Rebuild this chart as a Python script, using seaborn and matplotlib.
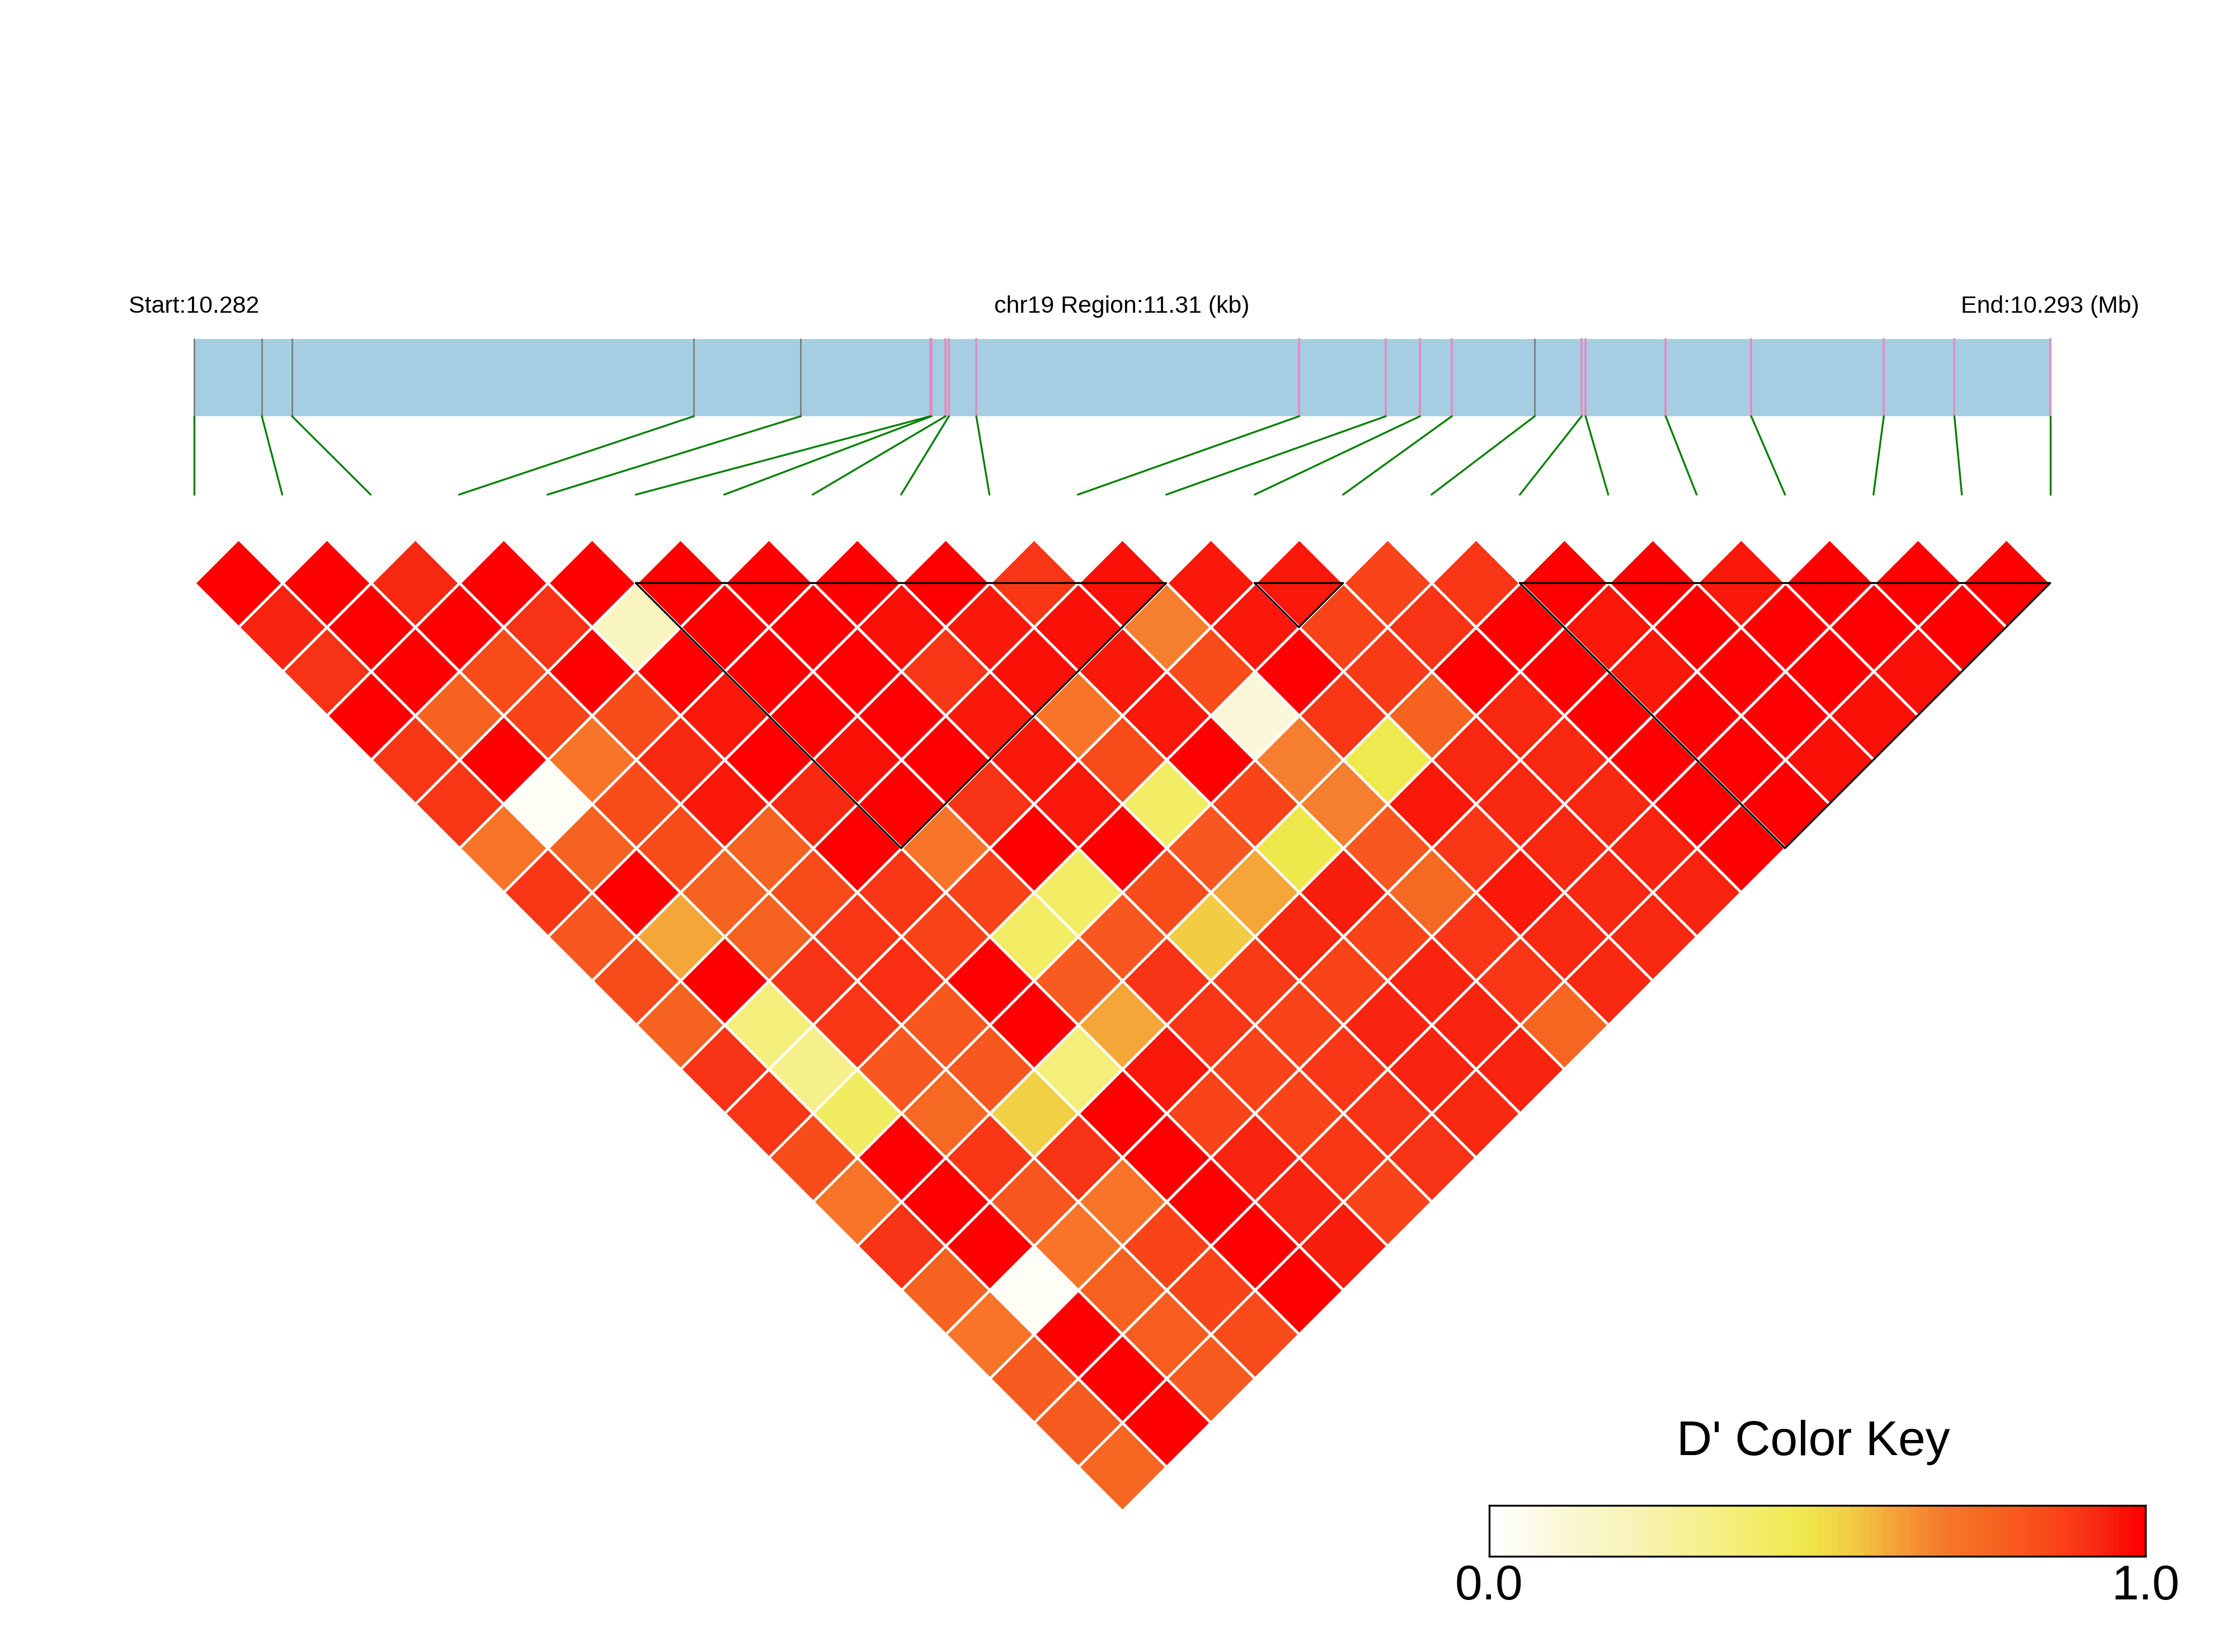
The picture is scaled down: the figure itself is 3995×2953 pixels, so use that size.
import numpy as np
import seaborn as sns
import matplotlib.pyplot as plt
from matplotlib.colors import LinearSegmentedColormap
from matplotlib.patches import Rectangle
from matplotlib.transforms import Affine2D

# SNP positions (bp) on chr19 and their annotation class
snp_pos = [10282000, 10282414, 10282598, 10285046, 10285697, 10286487, 10286494,
           10286580, 10286600, 10286767, 10288734, 10289262, 10289470, 10289664,
           10290169, 10290455, 10290479, 10290967, 10291488, 10292296, 10292726,
           10293310]
snp_class = ['grey'] * 5 + ['pink'] * 9 + ['grey'] + ['pink'] * 7

# haplotype blocks (first SNP, last SNP)
blocks = [(5, 11), (12, 13), (15, 21)]

# D' values, one list per distance between SNPs (lag 1 = neighbours)
dprime_by_lag = [
    [1.0, 1.0, 0.93, 1.0, 1.0, 1.0, 1.0, 1.0, 1.0, 0.9, 0.97, 0.96, 0.96, 0.87, 0.9, 1.0, 1.0, 0.96, 1.0, 1.0, 1.0],
    [0.94, 1.0, 1.0, 0.91, 0.18, 1.0, 1.0, 0.97, 0.96, 0.97, 0.68, 0.96, 0.87, 0.91, 1.0, 0.96, 1.0, 1.0, 1.0, 1.0],
    [0.91, 1.0, 0.85, 1.0, 1.0, 1.0, 1.0, 0.9, 0.97, 0.96, 0.84, 1.0, 0.89, 1.0, 1.0, 0.96, 1.0, 1.0, 0.97],
    [1.0, 0.77, 0.87, 0.84, 0.96, 1.0, 1.0, 0.96, 0.71, 0.96, 0.1, 0.9, 0.77, 0.93, 1.0, 1.0, 1.0, 0.97],
    [0.9, 1.0, 0.71, 0.93, 1.0, 0.97, 1.0, 0.96, 0.85, 1.0, 0.68, 0.47, 0.93, 0.93, 1.0, 1.0, 0.97],
    [0.9, 0.02, 0.84, 0.96, 0.93, 1.0, 0.91, 0.96, 0.42, 0.87, 0.68, 0.96, 0.93, 0.93, 1.0, 1.0],
    [0.71, 0.77, 0.84, 0.77, 1.0, 0.71, 1.0, 1.0, 0.81, 0.48, 0.81, 0.9, 0.93, 0.94, 1.0],
    [0.9, 1.0, 0.77, 0.85, 0.9, 0.87, 0.42, 0.84, 0.61, 0.95, 0.75, 0.96, 0.93, 0.94],
    [0.81, 0.61, 0.77, 0.9, 0.87, 0.42, 0.81, 0.55, 0.93, 0.87, 0.9, 0.93, 0.93],
    [0.84, 1.0, 0.91, 0.92, 1.0, 0.8, 0.91, 0.89, 0.87, 0.94, 0.9, 0.93],
    [0.77, 0.37, 0.9, 0.81, 1.0, 0.61, 0.9, 0.87, 0.94, 0.94, 0.76],
    [0.91, 0.33, 0.81, 0.81, 0.37, 0.96, 0.87, 0.9, 0.94, 0.94],
    [0.9, 0.43, 0.75, 0.54, 1.0, 0.87, 0.87, 0.91, 0.93],
    [0.84, 1.0, 0.9, 0.91, 1.0, 0.94, 0.9, 0.91],
    [0.71, 1.0, 0.81, 0.71, 1.0, 0.94, 0.87],
    [0.91, 1.0, 0.71, 0.87, 1.0, 0.95],
    [0.77, 0.02, 0.78, 0.87, 1.0],
    [0.71, 1.0, 0.79, 0.85],
    [0.8, 1.0, 0.8],
    [0.8, 1.0],
    [0.76],
]

# colour ramp white -> yellow -> orange -> red
ramp = [(0.0, '#FFFFFF'), (0.1, '#FBF8D8'), (0.2, '#F8F4BC'), (0.33, '#F5F08A'),
        (0.42, '#F2EC64'), (0.48, '#EFE84C'), (0.55, '#F2CD44'), (0.61, '#F4A838'),
        (0.68, '#F58030'), (0.71, '#F77428'), (0.77, '#F66420'), (0.81, '#F95820'),
        (0.85, '#F94A1A'), (0.9, '#F93816'), (0.94, '#F92510'), (0.97, '#FA1208'),
        (1.0, '#FF0000')]
ld_cmap = LinearSegmentedColormap.from_list('ld', ramp)

n = len(snp_pos)
mat = np.full((n, n), np.nan)
for k, row in enumerate(dprime_by_lag, start=1):
    for i, v in enumerate(row):
        mat[i, i + k] = v
mask = np.isnan(mat)

sns.set_style('white')
plt.rcParams['font.family'] = ['Liberation Sans', 'DejaVu Sans']
plt.rcParams['text.color'] = 'black'

fig = plt.figure(figsize=(3995 / 300, 2953 / 300), dpi=300)
ax = fig.add_axes([0, 0, 1, 1])

sns.heatmap(mat, mask=mask, cmap=ld_cmap, vmin=0, vmax=1, cbar=False,
            linewidths=0.7, linecolor='white', xticklabels=False,
            yticklabels=False, ax=ax)
# rotate the matrix 45 degrees so that row i / column j sits under SNPs i and j
mesh = ax.collections[0]
rot = Affine2D(np.array([[0.5, 0.5, -0.5], [-0.5, 0.5, 0.0], [0.0, 0.0, 1.0]]))
mesh.set_transform(rot + ax.transData)
mesh.set_zorder(1)

# block outlines
for a, b in blocks:
    ax.plot([a, b, (a + b) / 2, a], [-0.5, -0.5, -0.5 - (b - a) / 2, -0.5],
            color='black', lw=0.8, zorder=5)

# gene track
track_lo, track_hi = 1.387, 2.258
start, end = snp_pos[0], snp_pos[-1]
span = end - start
gx = [(p - start) / span * (n - 1) for p in snp_pos]
ax.add_patch(Rectangle((0, track_lo), n - 1, track_hi - track_lo,
                       facecolor='#A6CEE3', edgecolor='none', zorder=3))
line_col = {'grey': '#7F7F7F', 'pink': '#E68AC0'}
line_w = {'grey': 0.7, 'pink': 0.9}
for i, (x, c) in enumerate(zip(gx, snp_class)):
    ax.plot([x, x], [track_lo, track_hi], color=line_col[c], lw=line_w[c], zorder=4)
    ax.plot([x, i], [track_lo, 0.5], color='green', lw=0.8, zorder=4)

ax.text(0, 2.63, f"Start:{start / 1e6:.3f}", ha='center', va='center', fontsize=10.3, zorder=6)
ax.text((n - 1) / 2, 2.63, f"chr19 Region:{span / 1000:.2f} (kb)", ha='center', va='center',
        fontsize=10.3, zorder=6)
ax.text(n - 1, 2.63, f"End:{end / 1e6:.3f} (Mb)", ha='center', va='center', fontsize=10.3, zorder=6)

ax.set_xlim(-2.193, 23.09)
ax.set_ylim(-12.594, 6.096)
ax.set_axis_off()

# colour key
kax = fig.add_axes([0.6663, 0.0579, 0.2937, 0.0308])
sns.heatmap(np.linspace(0, 1, 100)[None, :], cmap=ld_cmap, vmin=0, vmax=1, cbar=False,
            xticklabels=False, yticklabels=False, ax=kax)
for sp in kax.spines.values():
    sp.set_visible(True)
    sp.set_color('black')
    sp.set_linewidth(0.8)

fig.text(0.8113, 0.1268, "D' Color Key", ha='center', va='center', fontsize=21)
fig.text(0.6663, 0.0396, "0.0", ha='center', va='center', fontsize=21)
fig.text(0.9600, 0.0396, "1.0", ha='center', va='center', fontsize=21)

fig.savefig('out.png', dpi=300)
